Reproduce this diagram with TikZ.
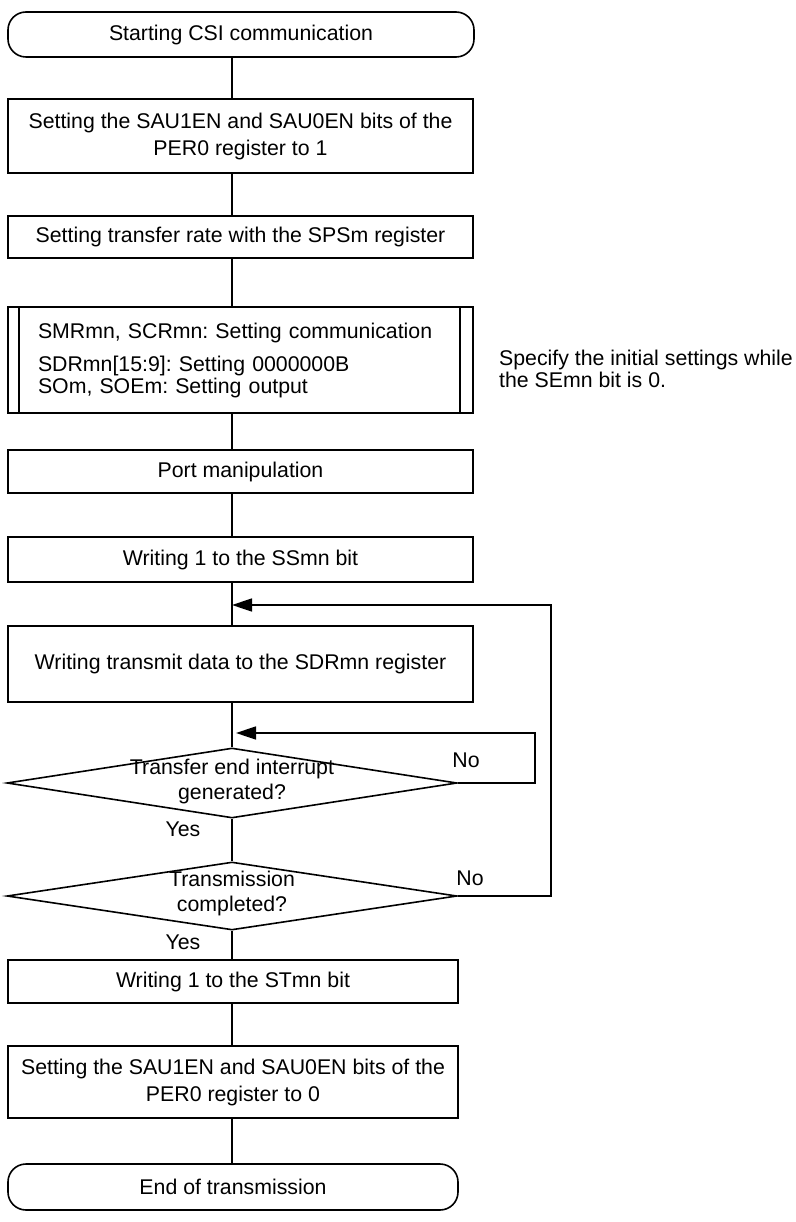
\documentclass[tikz,border=0pt]{standalone}
\usepackage{fontspec}
\setmainfont{Liberation Sans}
\frenchspacing
\usetikzlibrary{arrows.meta, shapes.geometric}
\tikzset{
  every picture/.style={line width=1.6pt},
  every node/.style={font=\fontsize{21.3}{27}\selectfont},
  term/.style={draw, rounded corners=18pt, minimum height=45pt, inner sep=0pt},
  proc/.style={draw, align=center, minimum height=#1, minimum width=465pt, inner sep=0pt},
  proc/.default=43pt,
  dec/.style={draw, diamond, minimum width=450pt, inner sep=0pt},
  arrow/.style={-{Triangle[length=20pt, width=13pt]}},
  note/.style={align=left, font=\fontsize{21.3}{22}\selectfont},
}

\begin{document}
\begin{tikzpicture}[x=1pt, y=-1pt]
  \useasboundingbox (0,0) rectangle (795,1222);
  \coordinate (axis) at (232,0);
  \node[term, minimum width=466pt] (start) at (241,34.5) {Starting CSI communication};
  \node[proc=74pt] (per1) at (240.5,136) {Setting the SAU1EN and SAU0EN bits of the\\PER0 register to 1};
  \node[proc=42pt] (sps) at (240.5,237) {Setting transfer rate with the SPSm register};
  \node[proc=106pt, text width=405pt, align=left, font=\fontsize{21.3}{22}\selectfont] (init) at (240.5,360)
    {SMRmn, SCRmn: Setting communication\\[11pt]SDRmn[15:9]: Setting 0000000B\\SOm, SOEm: Setting output};
  \draw ([xshift=12pt]init.north west) -- ([xshift=12pt]init.south west)
        ([xshift=-14pt]init.north east) -- ([xshift=-14pt]init.south east);
  \node[note, anchor=west] (hint) at (495,369) {Specify the initial settings while\\the SEmn bit is 0.};
  \node[proc=43pt] (port) at (240.5,471.5) {Port manipulation};
  \node[proc=45pt] (ss) at (240.5,559.5) {Writing 1 to the SSmn bit};
  \node[proc=76pt] (tx) at (240.5,664) {Writing transmit data to the SDRmn register};
  \node[dec, minimum height=70pt, label={[align=center, yshift=2pt, font=\fontsize{21.3}{25}\selectfont]center:{Transfer end interrupt\\generated?}}] (irq) at (232,783) {};
  \node[dec, minimum height=68pt, label={[align=center, yshift=3pt, font=\fontsize{21.3}{25}\selectfont]center:{Transmission\\completed?}}] (done) at (232,896) {};
  \node[proc=43pt, minimum width=450pt] (st) at (233,981.5) {Writing 1 to the STmn bit};
  \node[proc=72pt, minimum width=450pt] (per0) at (233,1082) {Setting the SAU1EN and SAU0EN bits of the\\PER0 register to 0};
  \node[term, minimum width=450pt, minimum height=46pt] (stop) at (233,1187) {End of transmission};

  \foreach \a/\b in {start/per1, per1/sps, sps/init, init/port, port/ss, ss/tx, tx/irq, irq/done, done/st, st/per0, per0/stop}
    \draw (\a.south -| axis) -- (\b.north -| axis);

  \node (no1) at (466,760) {No};
  \node (no2) at (470,878) {No};
  \node (yes1) at (183,829) {Yes};
  \node (yes2) at (183,942) {Yes};

  \coordinate (r1) at (535,0);
  \coordinate (r2) at (551,0);
  \coordinate (a1) at (232,605);
  \coordinate (a2) at (236,733);
  \draw[arrow] (irq.east) -| (r1 |- a2) -- (a2);
  \draw[arrow] (done.east) -| (r2 |- a1) -- (a1);
\end{tikzpicture}
\end{document}
